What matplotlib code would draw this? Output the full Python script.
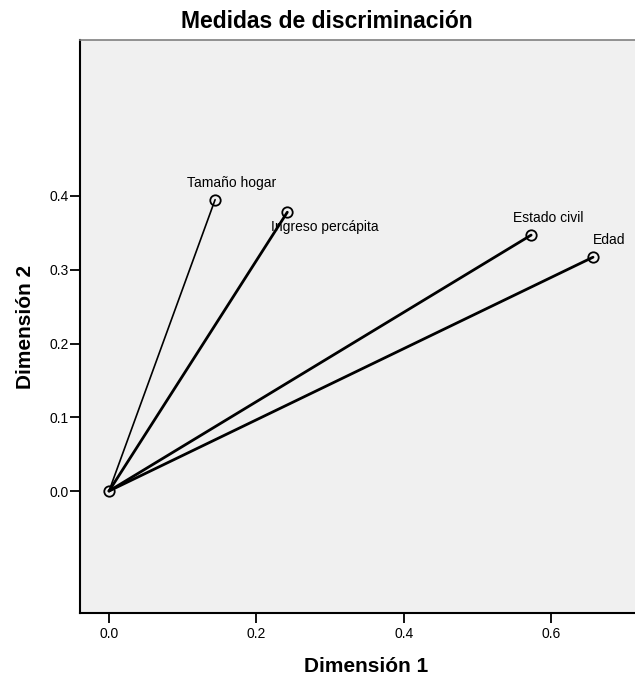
import matplotlib
matplotlib.use('Agg')
import matplotlib.pyplot as plt
from matplotlib import font_manager

# discrimination measures
variables = ['Tamaño hogar', 'Ingreso percápita', 'Estado civil', 'Edad']
dim1 = [0.144, 0.242, 0.573, 0.657]
dim2 = [0.395, 0.378, 0.347, 0.317]
line_widths = [1.2, 2.0, 2.0, 2.0]
x_ticks = [0.0, 0.2, 0.4, 0.6]
y_ticks = [0.0, 0.1, 0.2, 0.3, 0.4]

names = {f.name for f in font_manager.fontManager.ttflist}
narrow = 'Liberation Sans Narrow' if 'Liberation Sans Narrow' in names else 'Liberation Sans'
plt.rcParams['font.family'] = ['Liberation Sans', 'DejaVu Sans']

fig = plt.figure(figsize=(6.35, 6.76), dpi=100)
ax = fig.add_axes([80 / 635, 63 / 676, 555 / 635, 573 / 676])
ax.set_facecolor('#f0f0f0')

for x, y, lw in zip(dim1, dim2, line_widths):
    ax.plot([0, x], [0, y], color='black', lw=lw, solid_capstyle='round', zorder=2)
ax.plot(dim1 + [0.0], dim2 + [0.0], 'o', ms=7.5, mfc='none', mec='black', mew=1.3, zorder=3)

# label placement, offsets in pixels from the point
offsets = [(17, 17, 'center'), (-16, -15, 'left'), (17, 17, 'center'), (0, 17, 'left')]
for name, x, y, (dx, dy, ha) in zip(variables, dim1, dim2, offsets):
    ax.annotate(name, (x, y), xytext=(dx, dy), textcoords='offset pixels',
                ha=ha, va='center', fontsize=10, family=[narrow, 'DejaVu Sans'])

ax.set_xlim(-0.0394, 0.714)
ax.set_ylim(-0.1654, 0.6115)
ax.set_xticks(x_ticks)
ax.set_yticks(y_ticks)
ax.set_xticklabels([f'{v:.1f}' for v in x_ticks], family=[narrow, 'DejaVu Sans'], fontsize=10)
ax.set_yticklabels([f'{v:.1f}' for v in y_ticks], family=[narrow, 'DejaVu Sans'], fontsize=10)
ax.tick_params(length=7, width=1.3, color='black')
ax.tick_params(axis='x', pad=3)
ax.tick_params(axis='y', pad=1)

for side in ['left', 'bottom']:
    ax.spines[side].set_linewidth(1.5)
    ax.spines[side].set_color('black')
ax.spines['top'].set_color('#808080')
ax.spines['top'].set_linewidth(1.2)
ax.spines['right'].set_visible(False)

fig.text(327 / 635, 1 - 21 / 676, 'Medidas de discriminación', ha='center', va='center',
         fontsize=16.5, fontweight='bold')
fig.text(366 / 635, 1 - 667 / 676, 'Dimensión 1', ha='center', va='center',
         fontsize=15, fontweight='bold')
fig.text(26 / 635, 1 - 327 / 676, 'Dimensión 2', ha='center', va='center',
         fontsize=15, fontweight='bold', rotation=90)

fig.savefig('out.png', dpi=100)
